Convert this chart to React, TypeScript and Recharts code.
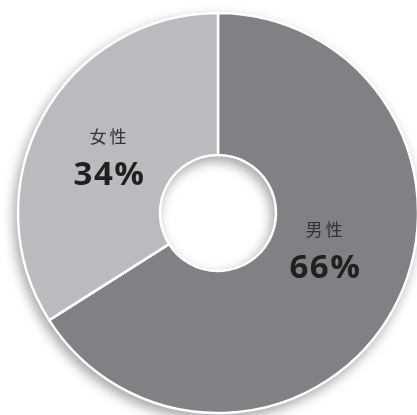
// App.tsx
// Donut chart: 男性 / 女性 share (Recharts)

import { PieChart, Pie, Cell } from 'recharts'

const names = ['男性', '女性']
const values = [66, 34]
const colors = ['#818185', '#babbbe']

const data = names.map((name, i) => ({ name, value: values[i] }))

// where each label block sits, measured from the donut centre
const labelOffsets = [
  { r: 113, angle: -18 },
  { r: 123, angle: 151.8 },
]

const RADIAN = Math.PI / 180

function renderLabel(props: any) {
  const { cx, cy, index, payload } = props
  const off = labelOffsets[index]
  const x = cx + off.r * Math.cos(off.angle * RADIAN)
  const y = cy - off.r * Math.sin(off.angle * RADIAN)
  const name = payload?.name ?? names[index]
  const value = payload?.value ?? values[index]
  return (
    <g>
      <text
        x={x}
        y={y - 12}
        textAnchor="middle"
        fill="#333"
        fontSize={17}
        letterSpacing={3}
        fontFamily="'Noto Sans CJK JP', sans-serif"
      >
        {name}
      </text>
      <text
        x={x}
        y={y + 30}
        textAnchor="middle"
        fill="#231f20"
        fontSize={33}
        fontWeight={700}
        letterSpacing={1.5}
        fontFamily="'Open Sans', sans-serif"
      >
        {`${value}%`}
      </text>
    </g>
  )
}

export default function App() {
  return (
    <div
      style={{
        position: 'absolute',
        left: 0,
        top: 0,
        width: 417,
        height: 415,
        background: '#fff',
        overflow: 'hidden',
      }}
    >
      <div style={{ filter: 'drop-shadow(-3px 5px 6px rgba(0,0,0,0.35))' }}>
        <PieChart width={417} height={415} margin={{ top: 0, right: 0, bottom: 0, left: 0 }}>
          <Pie
            data={data}
            dataKey="value"
            nameKey="name"
            cx={218}
            cy={213}
            innerRadius={58}
            outerRadius={200}
            startAngle={90}
            endAngle={-270}
            stroke="#fff"
            strokeWidth={2.5}
            label={renderLabel}
            labelLine={false}
            isAnimationActive={false}
          >
            {data.map((d, i) => (
              <Cell key={d.name} fill={colors[i]} />
            ))}
          </Pie>
        </PieChart>
      </div>
    </div>
  )
}
